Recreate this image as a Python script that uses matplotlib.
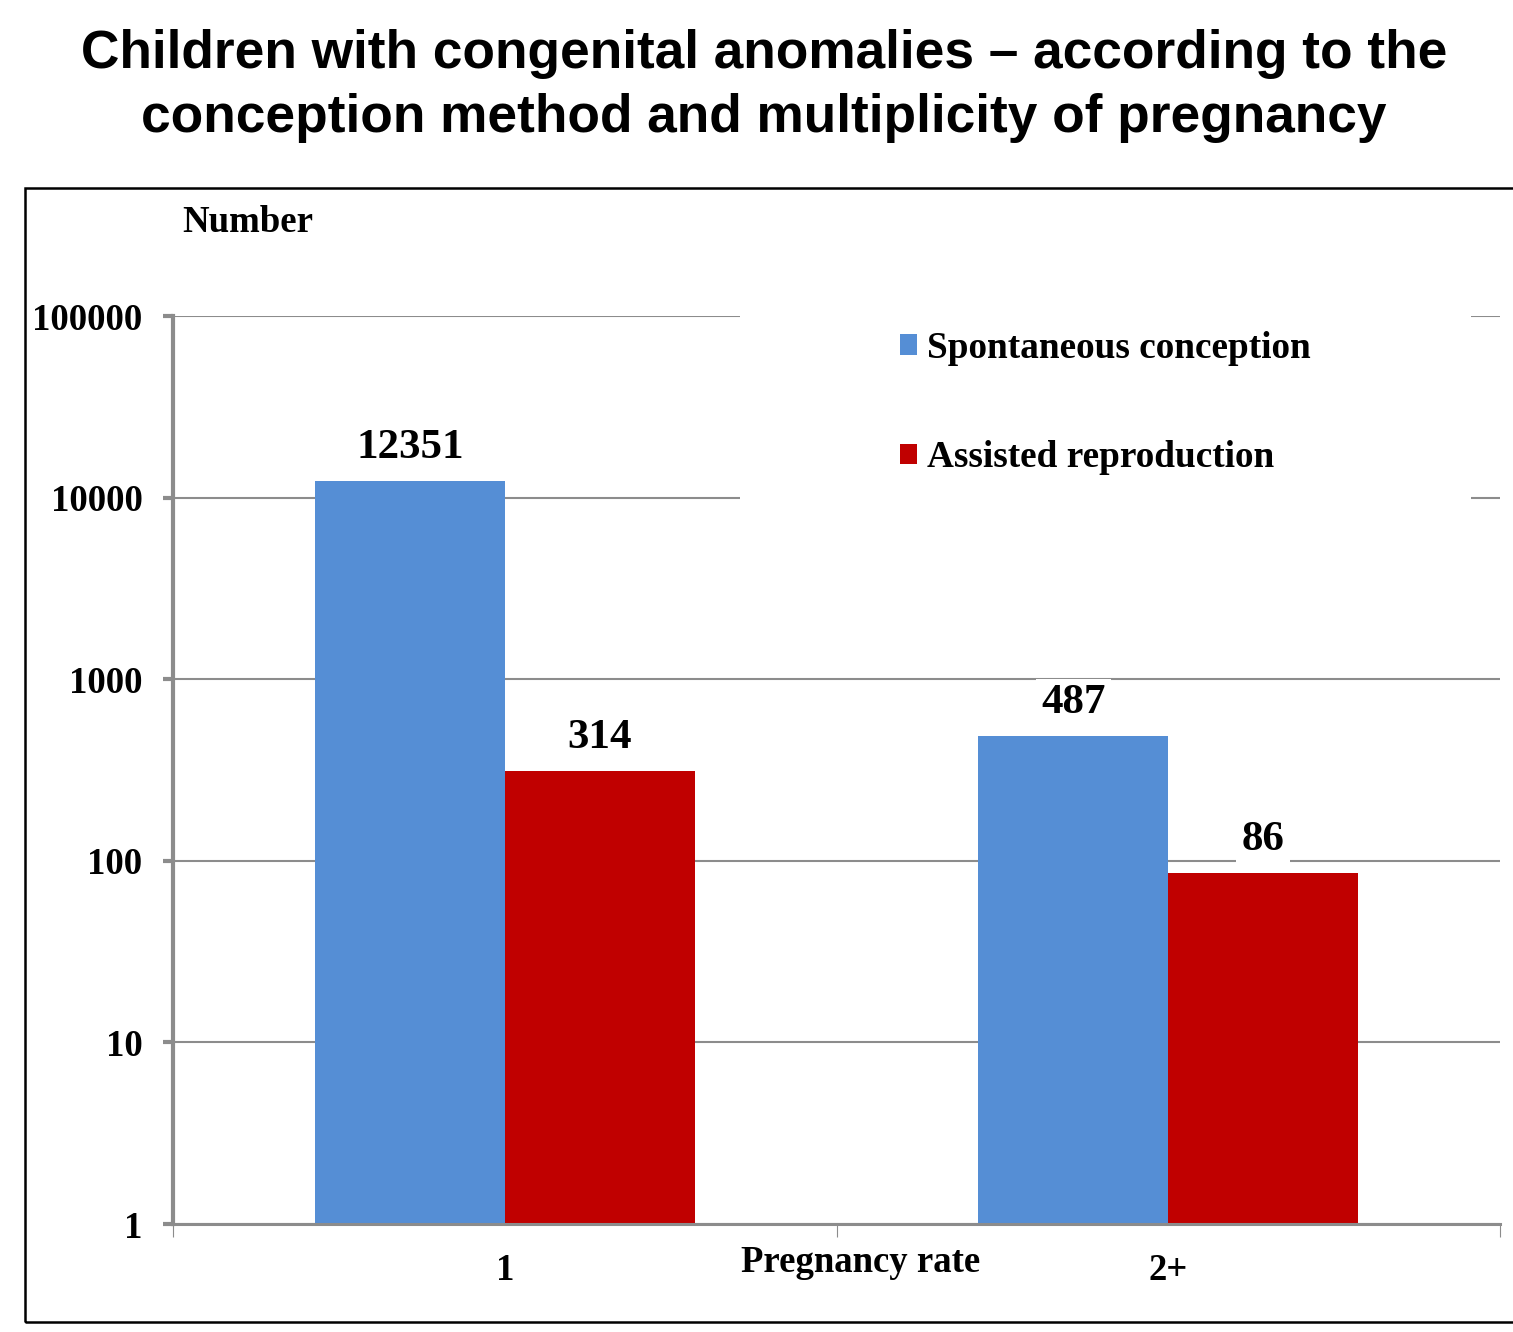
import matplotlib.pyplot as plt
from matplotlib.patches import Rectangle
import numpy as np

categories = ["1", "2+"]
spontaneous = [12351, 487]
assisted = [314, 86]
series_names = ["Spontaneous conception", "Assisted reproduction"]
y_ticks = [1, 10, 100, 1000, 10000, 100000]

blue = "#558ED5"
red = "#C00000"
grey = "#8c8c8c"
serif = "Liberation Serif"

fig = plt.figure(figsize=(15.13, 13.32), dpi=100)
ax = fig.add_axes([173 / 1513, 108 / 1332, 1327 / 1513, 908 / 1332])

x = np.arange(len(categories))
w = 0.286
b1 = ax.bar(x - w / 2, spontaneous, w, color=blue, label=series_names[0], zorder=3)
b2 = ax.bar(x + w / 2, assisted, w, color=red, label=series_names[1], zorder=3)

ax.set_yscale("log")
ax.set_ylim(1, 100000)
ax.set_xlim(-0.5, 1.5)
ax.set_yticks(y_ticks)
ax.set_yticklabels([str(v) for v in y_ticks])
ax.yaxis.set_minor_locator(plt.NullLocator())
ax.set_xticks(x)
ax.set_xticklabels(categories)
ax.set_xticks([-0.5, 0.5, 1.5], minor=True)

for lab in ax.get_yticklabels() + ax.get_xticklabels():
    lab.set_fontfamily(serif)
    lab.set_fontweight("bold")
    lab.set_fontsize(26.5)

ax.tick_params(axis="y", which="major", length=7, width=3, color=grey, pad=15)
ax.tick_params(axis="x", which="major", length=0, pad=21)
ax.tick_params(axis="x", which="minor", length=9, width=0.8, color=grey)

ax.grid(axis="y", color=grey, linewidth=1.5, zorder=0)
ax.set_axisbelow(True)
for s in ["top", "right"]:
    ax.spines[s].set_visible(False)
ax.spines["left"].set_color(grey)
ax.spines["left"].set_linewidth(3)
ax.spines["bottom"].set_color(grey)
ax.spines["bottom"].set_linewidth(2.2)
ax.spines["left"].set_zorder(4)
ax.spines["bottom"].set_zorder(4)

for bars, vals in [(b1, spontaneous), (b2, assisted)]:
    for rect, v in zip(bars, vals):
        ax.annotate(str(v), (rect.get_x() + rect.get_width() / 2, v),
                    xytext=(0, 23.5), textcoords="offset points",
                    ha="center", va="center", fontsize=31, fontweight="bold",
                    family=serif, zorder=5,
                    bbox=dict(facecolor="white", edgecolor="none", pad=4))

ax.set_ylabel("Number", rotation=0, fontsize=26.5, fontweight="bold", family=serif,
              ha="center", va="center")
ax.yaxis.set_label_coords((248 - 173) / 1327, (1224 - 222) / 908)
ax.set_xlabel("Pregnancy rate", fontsize=26.5, fontweight="bold", family=serif,
              ha="center", va="center")
ax.xaxis.set_label_coords((861 - 173) / 1327, -38 / 908)

leg = ax.legend(loc="upper left", bbox_to_anchor=(0.427, 1.16), borderaxespad=0,
                frameon=True, facecolor="white", edgecolor="none", framealpha=1,
                fancybox=False, borderpad=4.3, labelspacing=2.0,
                handlelength=0.46, handleheight=0.46, handletextpad=0.27,
                prop={"family": serif, "weight": "bold", "size": 26.8})
leg.set_zorder(6)

fig.suptitle("Children with congenital anomalies \u2013 according to the\nconception method and multiplicity of pregnancy",
             x=764 / 1513, y=1 - 29 / 1332, va="top", fontsize=38.3, fontweight="bold",
             family="Liberation Sans", linespacing=1.36)

fig.add_artist(Rectangle((25 / 1513, 10 / 1332), 1520 / 1513, 1134 / 1332,
                         transform=fig.transFigure, fill=False,
                         edgecolor="black", linewidth=1.8, zorder=10))

fig.savefig("out.png", dpi=100)
